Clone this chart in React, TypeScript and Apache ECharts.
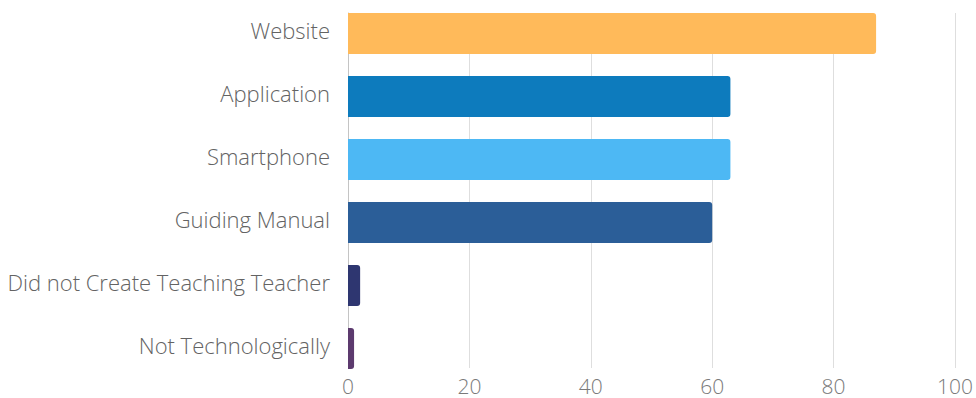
import React, { useEffect, useRef } from "react";
import * as echarts from "echarts";

const categories = [
  "Website",
  "Application",
  "Smartphone",
  "Guiding Manual",
  "Did not Create Teaching Teacher",
  "Not Technologically",
];
const values = [87, 63, 63, 60, 2, 1];
const colors = ["#FFBA5A", "#0D7BBD", "#4DB8F4", "#2B5E98", "#2E3670", "#5C3A6E"];
const xTicks = [0, 20, 40, 60, 80, 100];

export default function App() {
  const ref = useRef<HTMLDivElement>(null);
  useEffect(() => {
    if (!ref.current) return;
    const chart = echarts.init(ref.current, undefined, { renderer: "svg" });
    const font = "'Open Sans', sans-serif";
    chart.setOption({
      animation: false,
      grid: [
        { left: 348, right: 21, top: 13, height: 355 },
        { left: 348, right: 21, top: 2, height: 378 },
      ],
      xAxis: [
        {
          gridIndex: 0,
          type: "value",
          min: xTicks[0],
          max: xTicks[xTicks.length - 1],
          interval: 20,
          axisLine: { show: false },
          axisTick: { show: false },
          splitLine: { show: true, lineStyle: { color: "#dedede", width: 1 } },
          axisLabel: {
            color: "#7a7a7a",
            fontFamily: font,
            fontWeight: 300,
            fontSize: 21,
            lineHeight: 18,
            margin: 9,
          },
        },
        {
          gridIndex: 1,
          type: "value",
          min: 0,
          max: 100,
          show: false,
        },
      ],
      yAxis: [
        {
          gridIndex: 0,
          type: "category",
          data: categories,
          inverse: true,
          axisLine: { show: true, lineStyle: { color: "#c4c4c4", width: 1 } },
          axisTick: { show: false },
          axisLabel: { show: false },
          splitLine: { show: false },
        },
        {
          gridIndex: 1,
          type: "category",
          data: categories,
          inverse: true,
          axisLine: { show: false },
          axisTick: { show: false },
          splitLine: { show: false },
          axisLabel: {
            color: "#636363",
            fontFamily: font,
            fontWeight: 300,
            fontSize: 22,
            margin: 18,
            lineHeight: 8,
            verticalAlign: "bottom",
          },
        },
      ],
      series: [
        {
          type: "bar",
          xAxisIndex: 1,
          yAxisIndex: 1,
          barWidth: 41,
          data: values.map((v, i) => ({
            value: v,
            itemStyle: { color: colors[i], borderRadius: [0, 3, 3, 0] },
          })),
        },
      ],
    });
    return () => chart.dispose();
  }, []);
  return <div ref={ref} style={{ width: 976, height: 398, position: "absolute", left: 0, top: 0 }} />;
}
